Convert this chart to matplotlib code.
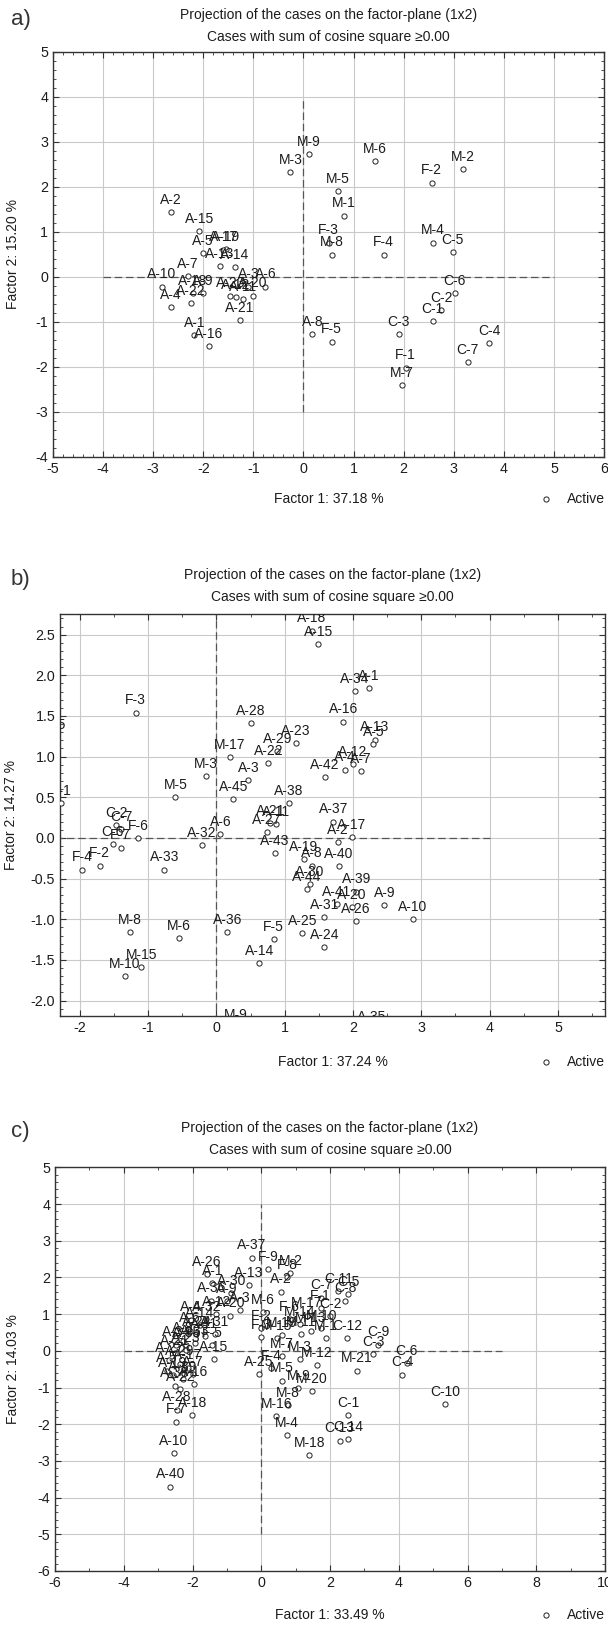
import matplotlib
matplotlib.use("Agg")
import matplotlib.pyplot as plt
from matplotlib.ticker import MultipleLocator, FormatStrFormatter

plt.rcParams["font.family"] = ["Liberation Sans", "DejaVu Sans"]
plt.rcParams["axes.unicode_minus"] = False

# ---- panel a ----
a_names = ["A-2", "A-15", "A-19", "A-17", "A-5", "A-13", "A-14", "A-7", "A-10", "A-4", "A-22",
           "A-18", "A-9", "A-23", "A-11", "A-12", "A-20", "A-6", "A-3", "A-21", "A-1", "A-16",
           "M-3", "M-9", "M-6", "M-5", "M-1", "F-3", "M-8", "F-4", "F-2", "M-2", "M-4",
           "C-5", "C-6", "C-2", "C-1", "C-3", "C-4", "C-7", "F-1", "M-7", "A-8", "F-5"]
a_x = [-2.65, -2.08, -1.55, -1.60, -2.01, -1.67, -1.37, -2.31, -2.83, -2.65, -2.24,
       -2.21, -2.01, -1.46, -1.20, -1.35, -1.01, -0.76, -1.10, -1.27, -2.18, -1.89,
       -0.26, 0.11, 1.42, 0.68, 0.80, 0.50, 0.56, 1.60, 2.56, 3.18, 2.58,
       2.98, 3.02, 2.75, 2.58, 1.90, 3.71, 3.28, 2.04, 1.97, 0.18, 0.56]
a_y = [1.43, 1.01, 0.62, 0.60, 0.52, 0.24, 0.21, 0.02, -0.22, -0.68, -0.58,
       -0.37, -0.37, -0.42, -0.50, -0.45, -0.42, -0.22, -0.22, -0.96, -1.30, -1.55,
       2.32, 2.73, 2.57, 1.91, 1.36, 0.76, 0.49, 0.49, 2.09, 2.39, 0.76,
       0.54, -0.36, -0.74, -0.99, -1.27, -1.47, -1.90, -2.02, -2.41, -1.27, -1.44]

# ---- panel b ----
b_names = ["A-18", "A-15", "A-34", "A-1", "F-3", "A-28", "A-16", "A-13", "A-5", "A-23",
           "A-29", "M-17", "A-22", "A-12", "A-4", "A-7", "M-3", "A-42", "A-3", "M-5",
           "A-45", "A-38", "F-1", "C-5", "A-37", "C-2", "C-7", "A-21", "A-11", "A-27",
           "A-6", "F-6", "A-17", "A-2", "C-6", "F-7", "A-32", "A-43", "A-19", "A-8",
           "A-40", "F-2", "F-4", "A-33", "A-30", "A-44", "A-39", "A-41", "A-20", "A-9",
           "A-31", "A-26", "A-10", "M-8", "M-6", "A-36", "F-5", "A-25", "A-24", "A-14",
           "M-15", "M-10", "M-9", "A-35"]
b_x = [1.40, 1.49, 2.03, 2.23, -1.18, 0.50, 1.86, 2.32, 2.30, 1.16,
       0.89, 0.20, 0.76, 2.00, 1.88, 2.11, -0.15, 1.59, 0.47, -0.60,
       0.25, 1.06, -2.27, -2.37, 1.71, -1.47, -1.39, 0.79, 0.88, 0.74,
       0.06, -1.15, 1.98, 1.78, -1.52, -1.40, -0.21, 0.86, 1.28, 1.40,
       1.79, -1.71, -1.97, -0.76, 1.37, 1.32, 2.05, 1.76, 1.98, 2.46,
       1.58, 2.04, 2.88, -1.27, -0.55, 0.16, 0.84, 1.26, 1.58, 0.63,
       -1.10, -1.34, 0.29, 2.27]
b_y = [2.55, 2.38, 1.81, 1.84, 1.54, 1.41, 1.43, 1.21, 1.15, 1.17,
       1.07, 0.99, 0.92, 0.91, 0.84, 0.82, 0.76, 0.75, 0.71, 0.50,
       0.48, 0.43, 0.43, 1.24, 0.20, 0.16, 0.11, 0.18, 0.17, 0.07,
       0.05, 0.00, 0.01, -0.05, -0.08, -0.12, -0.09, -0.19, -0.26, -0.34,
       -0.35, -0.34, -0.39, -0.39, -0.57, -0.63, -0.66, -0.81, -0.85, -0.83,
       -0.97, -1.02, -1.00, -1.16, -1.23, -1.16, -1.24, -1.17, -1.34, -1.54,
       -1.59, -1.70, -2.33, -2.35]

# ---- panel c ----
c_names = ["A-37", "F-9", "M-2", "F-8", "A-26", "A-1", "A-13", "A-30", "A-2",
           "A-36", "A-9", "A-3", "A-20", "A-12", "A-32", "A-14", "A-6", "A-24", "A-11",
           "A-31", "A-8", "A-33", "A-34", "A-35", "A-15", "A-21", "A-27", "A-29", "A-17",
           "A-7", "A-19", "A-39", "A-38", "A-22", "A-16", "A-5", "A-4", "A-23", "F-5",
           "A-28", "A-18", "F-7", "A-10", "A-40",
           "M-6", "F-2", "F-3", "F-6", "M-14", "M-17", "M-19", "M-15", "M-11", "M-13",
           "M-10", "M-1", "M-7", "M-3", "M-12", "M-5", "F-4", "A-25", "M-9", "M-20",
           "M-8", "M-16", "M-4", "M-18", "M-21",
           "C-1", "C-2", "C-3", "C-4", "C-5", "C-6", "C-7", "C-8", "C-9", "C-10",
           "C-11", "C-12", "C-13", "C-14", "F-1"]
c_x = [-0.27, 0.20, 0.85, 0.75, -1.59, -1.42, -0.36, -0.87, 0.57,
       -1.45, -1.01, -0.63, -0.90, -1.31, -1.60, -1.79, -2.08, -1.89, -1.65,
       -1.36, -2.28, -1.94, -2.47, -2.18, -1.38, -2.52, -2.67, -2.37, -2.13,
       -1.99, -2.57, -2.28, -2.52, -2.35, -1.96, -2.74, -2.05, -2.20, -1.42,
       -2.45, -2.01, -2.47, -2.55, -2.65,
       0.05, 0.00, -0.01, 0.83, 1.12, 1.32, 0.59, 0.45, 1.15, 1.45,
       1.75, 1.88, 0.59, 1.12, 1.61, 0.61, 0.28, -0.08, 1.08, 1.48,
       0.78, 0.44, 0.74, 1.40, 2.79,
       2.53, 2.00, 3.26, 4.10, 2.53, 4.23, 1.75, 2.45, 3.40, 5.35,
       2.24, 2.49, 2.28, 2.52, 1.73]
c_y = [2.54, 2.22, 2.12, 2.01, 2.08, 1.85, 1.78, 1.57, 1.61,
       1.37, 1.35, 1.10, 0.96, 1.01, 0.87, 0.69, 0.55, 0.45, 0.39,
       0.46, 0.28, 0.22, 0.17, 0.15, -0.23, -0.06, -0.26, -0.35, -0.46,
       -0.63, -0.67, -0.78, -0.95, -1.04, -0.90, -0.54, 0.85, 0.02, 0.15,
       -1.60, -1.75, -1.93, -2.79, -3.70,
       1.05, 0.62, 0.37, 0.87, 0.72, 0.96, 0.42, 0.35, 0.45, 0.55,
       0.62, 0.35, -0.15, -0.22, -0.40, -0.81, -0.47, -0.63, -1.01, -1.10,
       -1.49, -1.78, -2.29, -2.84, -0.54,
       -1.76, 0.94, -0.08, -0.65, 1.55, -0.34, 1.45, 1.37, 0.17, -1.45,
       1.63, 0.35, -2.45, -2.40, 1.17]

W, H = 608, 1625
fig = plt.figure(figsize=(W / 100, H / 100), dpi=100)
TXT = "#1c1c1c"
FS = 10


def panel(tag, box, names, xs, ys, xlim, ylim, xmaj, xmin, ymaj, ymin,
          hline, vline, yfmt, f1, f2, ylab_x, xlab_y, title_y):
    left, top, right, bottom = box
    ax = fig.add_axes([left / W, 1 - bottom / H, (right - left) / W, (bottom - top) / H])
    ax.set_xlim(*xlim)
    ax.set_ylim(*ylim)
    ax.xaxis.set_major_locator(MultipleLocator(xmaj))
    ax.xaxis.set_minor_locator(MultipleLocator(xmin))
    ax.yaxis.set_major_locator(MultipleLocator(ymaj))
    ax.yaxis.set_minor_locator(MultipleLocator(ymin))
    if yfmt:
        ax.yaxis.set_major_formatter(FormatStrFormatter(yfmt))
    ax.grid(True, which="major", color="#c9c9c9", lw=0.8)
    ax.set_axisbelow(True)
    ax.tick_params(which="both", direction="in", top=True, right=True,
                   colors="#333333", labelcolor=TXT, labelsize=FS + 0.3)
    ax.tick_params(which="major", length=4, width=0.8)
    ax.tick_params(which="minor", length=2, width=0.6)
    for s in ax.spines.values():
        s.set_color("#333333")
        s.set_linewidth(1.0)

    # dashed reference axes through the origin
    ax.plot(hline, [0, 0], ls=(0, (6, 3)), color="#555555", lw=0.9, zorder=1.5)
    ax.plot([0, 0], vline, ls=(0, (6, 3)), color="#555555", lw=0.9, zorder=1.5)

    ax.scatter(xs, ys, s=14, facecolors="white", edgecolors="#222222",
               linewidths=0.7, zorder=3, label="Active")
    for n, x, y in zip(names, xs, ys):
        ax.annotate(n, (x, y), xytext=(0, 8.8), textcoords="offset points",
                    ha="center", va="center", fontsize=FS, color=TXT,
                    annotation_clip=False, clip_on=True, zorder=4)

    cx = (left + right) / 2 / W
    fig.text(cx, 1 - title_y / H, "Projection of the cases on the factor-plane (1x2)",
             ha="center", va="center", fontsize=FS, color=TXT)
    fig.text(cx, 1 - (title_y + 22) / H, "Cases with sum of cosine square \u22650.00",
             ha="center", va="center", fontsize=FS, color=TXT)
    fig.text(11 / W, 1 - (title_y + 4) / H, tag, ha="left", va="center",
             fontsize=16, color="#333333", fontweight="light")
    fig.text(cx, 1 - xlab_y / H, f1, ha="center", va="center", fontsize=FS, color=TXT)
    fig.text(ylab_x / W, 1 - (top + bottom) / 2 / H, f2, ha="center", va="center",
             rotation=90, fontsize=FS, color=TXT)
    ax.legend(loc="center left", bbox_to_anchor=(532 / W, 1 - xlab_y / H),
              bbox_transform=fig.transFigure, frameon=False, fontsize=FS,
              handletextpad=0.5, borderpad=0, borderaxespad=0, labelcolor=TXT)
    return ax


panel("a)", (53, 51.7, 604, 456.7), a_names, a_x, a_y, (-5, 6), (-4, 5),
      1, 0.2, 1, 0.2, [-4, 5], [-3, 4], None,
      "Factor 1: 37.18 %", "Factor 2: 15.20 %", 13, 499, 15)
panel("b)", (60, 613.5, 605, 1016), b_names, b_x, b_y, (-2.29, 5.69), (-2.19, 2.76),
      1, 0.5, 0.5, 0.1, [-4, 4], [-3.5, 3.7], "%.1f",
      "Factor 1: 37.24 %", "Factor 2: 14.27 %", 11, 1062, 575)
panel("c)", (55, 1167.3, 605, 1571), c_names, c_x, c_y, (-6, 10), (-6, 5),
      2, 1, 1, 0.2, [-4, 7], [-5, 4], None,
      "Factor 1: 33.49 %", "Factor 2: 14.03 %", 13, 1615, 1128)

fig.savefig("out.png", dpi=100)
